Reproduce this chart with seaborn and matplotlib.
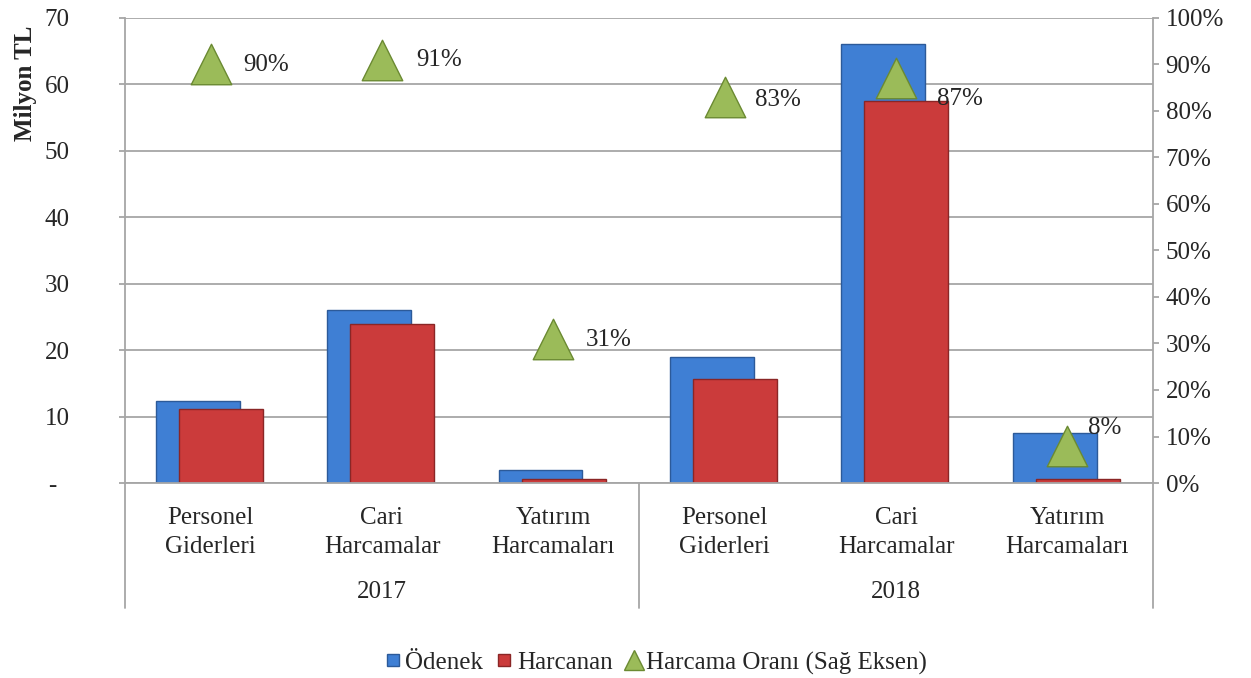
import numpy as np
import pandas as pd
import matplotlib
matplotlib.use("Agg")
import matplotlib.pyplot as plt
import matplotlib.transforms as mtransforms
from matplotlib.lines import Line2D
import seaborn as sns

# data
categories = ["Personel\nGiderleri", "Cari\nHarcamalar", "Yatırım\nHarcamaları",
              "Personel\nGiderleri", "Cari\nHarcamalar", "Yatırım\nHarcamaları"]
years = ["2017", "2018"]
odenek = [12.4, 26.1, 1.9, 18.9, 66.1, 7.6]
harcanan = [11.2, 23.9, 0.6, 15.7, 57.5, 0.6]
oran = [0.90, 0.91, 0.31, 0.83, 0.87, 0.08]

# label nudges in pixels (dx right, dy down) for the ratio labels
label_nudge = [(33, 1), (34, 0), (32, 1), (30, 3), (41, 21), (21, -18)]

BLUE = "#3F7FD4"
BLUE_EDGE = "#2C5A99"
RED = "#CB3B3B"
RED_EDGE = "#8A2626"
GREEN = "#9BBB59"
GREEN_EDGE = "#6B8A32"
GRID = "#A6A6A6"
FS = 18

sns.set_style("white")
plt.rcParams["font.family"] = ["Liberation Serif", "DejaVu Serif"]
plt.rcParams["font.size"] = FS

idx = np.arange(len(categories))
df = pd.DataFrame({"pos": idx, "odenek": odenek, "harcanan": harcanan, "oran": oran})

fig = plt.figure(figsize=(12.51, 6.78), dpi=100)
ax = fig.add_axes([0.0999, 0.2876, 0.9217 - 0.0999, 0.9735 - 0.2876])

sns.barplot(x=df["pos"] - 0.075, y=df["odenek"], native_scale=True, width=0.49,
            color=BLUE, edgecolor=BLUE_EDGE, linewidth=1, saturation=1,
            errorbar=None, ax=ax, zorder=2)
sns.barplot(x=df["pos"] + 0.06, y=df["harcanan"], native_scale=True, width=0.49,
            color=RED, edgecolor=RED_EDGE, linewidth=1, saturation=1,
            errorbar=None, ax=ax, zorder=2)

ax.set_xlim(-0.5, 5.5)
ax.set_ylim(0, 70)
ax.set_yticks(range(0, 71, 10))
ax.set_yticklabels(["-  "] + [str(v) for v in range(10, 71, 10)])
ax.yaxis.grid(True, color=GRID, linewidth=1.3, zorder=0)
ax.set_axisbelow(True)
ax.set_xticks(idx)
ax.set_xticklabels(categories, linespacing=1.45)
ax.tick_params(axis="x", length=0, pad=17, labelsize=FS)
ax.tick_params(axis="y", length=4, color=GRID, width=1.3, pad=36, labelsize=FS)
ax.set_xlabel("")
ax.set_ylabel("Milyon TL", fontweight="bold", fontsize=FS)
ax.yaxis.set_label_coords(-0.086, 0.86)
for s in ["top", "right"]:
    ax.spines[s].set_visible(False)
for s in ["left", "bottom"]:
    ax.spines[s].set_color(GRID)
    ax.spines[s].set_linewidth(1.3)

ax2 = ax.twinx()
sns.scatterplot(x=df["pos"], y=df["oran"], marker="^", s=850, color=GREEN,
                edgecolor=GREEN_EDGE, linewidth=1, ax=ax2, zorder=4, legend=False)
ax2.set_ylim(0, 1)
ax2.set_yticks(np.arange(0, 1.01, 0.1))
ax2.set_yticklabels([f"{int(round(v * 100))}%" for v in np.arange(0, 1.01, 0.1)])
ax2.tick_params(axis="y", length=4, color=GRID, width=1.3, pad=5, labelsize=FS)
ax2.set_ylabel("")
for s in ["top", "left", "bottom"]:
    ax2.spines[s].set_visible(False)
ax2.spines["right"].set_color(GRID)
ax2.spines["right"].set_linewidth(1.3)

for i, v in enumerate(oran):
    dx, dy = label_nudge[i]
    ax2.annotate(f"{int(round(v * 100))}%", (i, v), xytext=(dx * 0.72, -dy * 0.72),
                 textcoords="offset points", ha="left", va="center", fontsize=FS,
                 zorder=5)

# group separators and year labels under the category axis
trans = mtransforms.blended_transform_factory(ax.transData, ax.transAxes)
for x in [-0.5, 2.5, 5.5]:
    ax.plot([x, x], [0, -0.269], transform=trans, color=GRID, linewidth=1.3,
            clip_on=False)
for j, yr in enumerate(years):
    ax.text(1 + 3 * j, -0.234, yr, transform=trans, ha="center", va="center",
            fontsize=FS)

handles = [
    Line2D([], [], marker="s", linestyle="none", markersize=9, color=BLUE,
           markeredgecolor=BLUE_EDGE),
    Line2D([], [], marker="s", linestyle="none", markersize=9, color=RED,
           markeredgecolor=RED_EDGE),
    Line2D([], [], marker="^", linestyle="none", markersize=15, color=GREEN,
           markeredgecolor=GREEN_EDGE),
]
fig.legend(handles, ["Ödenek", "Harcanan", "Harcama Oranı (Sağ Eksen)"],
           loc="center", bbox_to_anchor=(0.523, 0.022), ncol=3, frameon=False,
           fontsize=FS, handletextpad=0.05, columnspacing=0.4, handlelength=0.9)

fig.savefig("out.png", dpi=100)
